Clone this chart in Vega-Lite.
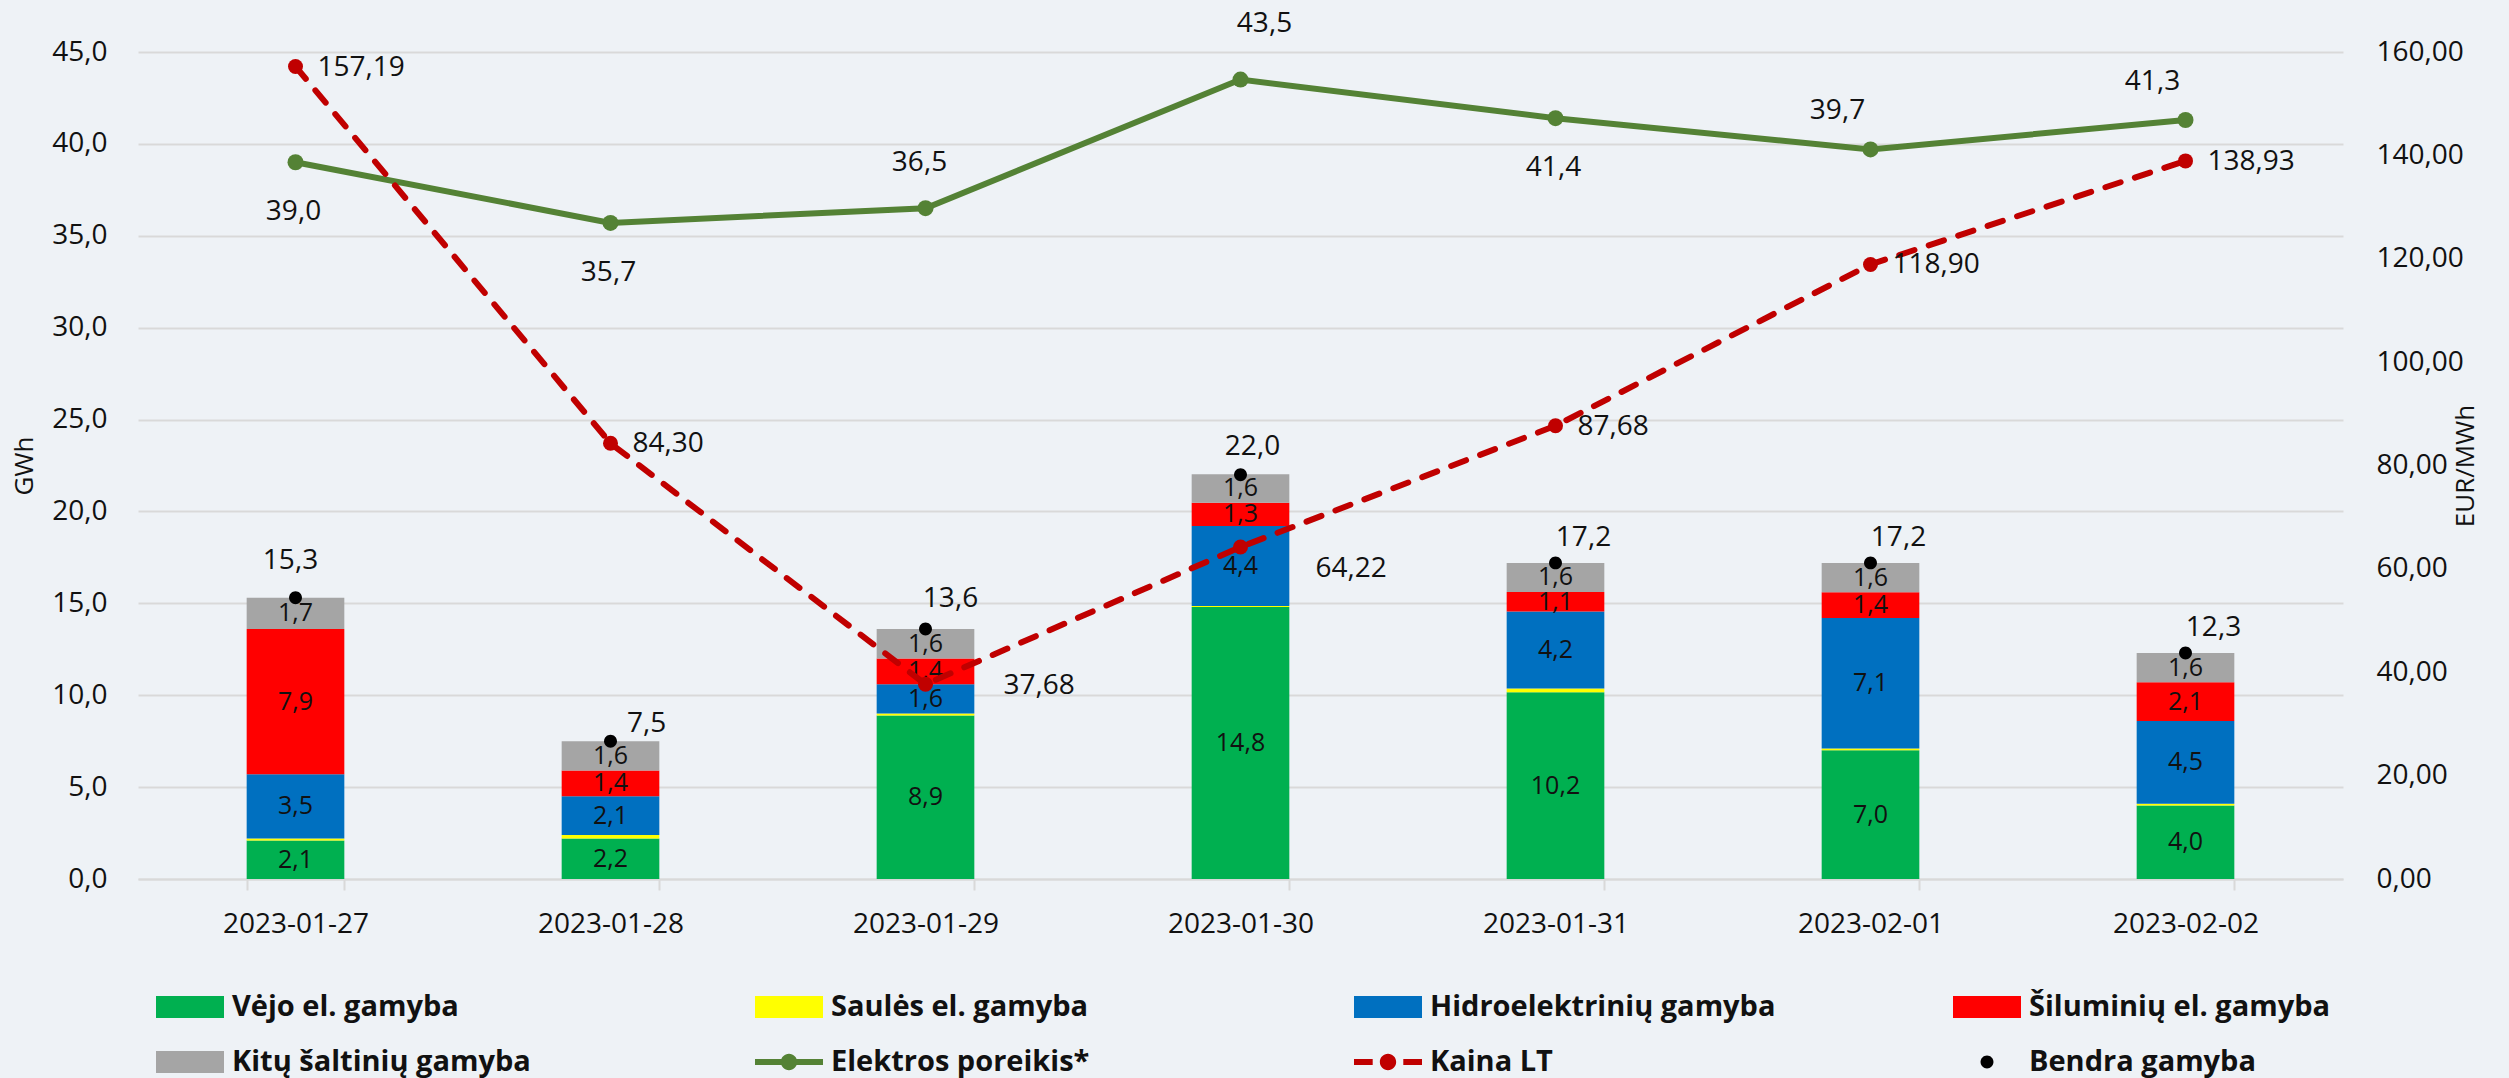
{
  "$schema": "https://vega.github.io/schema/vega-lite/v6.json",
  "width": 2205,
  "height": 827,
  "autosize": {"type": "none"},
  "padding": {"left": 138, "top": 52, "right": 166, "bottom": 199},
  "background": "#EEF2F6",
  "config": {
    "locale": {"number": {"decimal": ",", "thousands": " ", "grouping": [3], "currency": ["", " €"]}},
    "view": {"stroke": null},
    "font": "Open Sans",
    "axis": {"labelFont": "Open Sans", "titleFont": "Open Sans", "labelColor": "#111111", "titleColor": "#111111"},
    "text": {"font": "Open Sans", "color": "#111111"}
  },
  "datasets": {
    "gen": [
      {"date": "2023-01-27", "series": "Vėjo el. gamyba", "value": 2.1},
      {"date": "2023-01-27", "series": "Saulės el. gamyba", "value": 0.1},
      {"date": "2023-01-27", "series": "Hidroelektrinių gamyba", "value": 3.5},
      {"date": "2023-01-27", "series": "Šiluminių el. gamyba", "value": 7.9},
      {"date": "2023-01-27", "series": "Kitų  šaltinių gamyba", "value": 1.7},
      {"date": "2023-01-28", "series": "Vėjo el. gamyba", "value": 2.2},
      {"date": "2023-01-28", "series": "Saulės el. gamyba", "value": 0.2},
      {"date": "2023-01-28", "series": "Hidroelektrinių gamyba", "value": 2.1},
      {"date": "2023-01-28", "series": "Šiluminių el. gamyba", "value": 1.4},
      {"date": "2023-01-28", "series": "Kitų  šaltinių gamyba", "value": 1.6},
      {"date": "2023-01-29", "series": "Vėjo el. gamyba", "value": 8.9},
      {"date": "2023-01-29", "series": "Saulės el. gamyba", "value": 0.1},
      {"date": "2023-01-29", "series": "Hidroelektrinių gamyba", "value": 1.6},
      {"date": "2023-01-29", "series": "Šiluminių el. gamyba", "value": 1.4},
      {"date": "2023-01-29", "series": "Kitų  šaltinių gamyba", "value": 1.6},
      {"date": "2023-01-30", "series": "Vėjo el. gamyba", "value": 14.8},
      {"date": "2023-01-30", "series": "Saulės el. gamyba", "value": 0.05},
      {"date": "2023-01-30", "series": "Hidroelektrinių gamyba", "value": 4.36},
      {"date": "2023-01-30", "series": "Šiluminių el. gamyba", "value": 1.26},
      {"date": "2023-01-30", "series": "Kitų  šaltinių gamyba", "value": 1.56},
      {"date": "2023-01-31", "series": "Vėjo el. gamyba", "value": 10.16},
      {"date": "2023-01-31", "series": "Saulės el. gamyba", "value": 0.2},
      {"date": "2023-01-31", "series": "Hidroelektrinių gamyba", "value": 4.2},
      {"date": "2023-01-31", "series": "Šiluminių el. gamyba", "value": 1.06},
      {"date": "2023-01-31", "series": "Kitų  šaltinių gamyba", "value": 1.58},
      {"date": "2023-02-01", "series": "Vėjo el. gamyba", "value": 7.0},
      {"date": "2023-02-01", "series": "Saulės el. gamyba", "value": 0.1},
      {"date": "2023-02-01", "series": "Hidroelektrinių gamyba", "value": 7.1},
      {"date": "2023-02-01", "series": "Šiluminių el. gamyba", "value": 1.4},
      {"date": "2023-02-01", "series": "Kitų  šaltinių gamyba", "value": 1.6},
      {"date": "2023-02-02", "series": "Vėjo el. gamyba", "value": 4.0},
      {"date": "2023-02-02", "series": "Saulės el. gamyba", "value": 0.1},
      {"date": "2023-02-02", "series": "Hidroelektrinių gamyba", "value": 4.5},
      {"date": "2023-02-02", "series": "Šiluminių el. gamyba", "value": 2.1},
      {"date": "2023-02-02", "series": "Kitų  šaltinių gamyba", "value": 1.6}
    ],
    "total": [
      {"date": "2023-01-27", "series": "Bendra gamyba", "value": 15.3},
      {"date": "2023-01-28", "series": "Bendra gamyba", "value": 7.5},
      {"date": "2023-01-29", "series": "Bendra gamyba", "value": 13.6},
      {"date": "2023-01-30", "series": "Bendra gamyba", "value": 22.0},
      {"date": "2023-01-31", "series": "Bendra gamyba", "value": 17.2},
      {"date": "2023-02-01", "series": "Bendra gamyba", "value": 17.2},
      {"date": "2023-02-02", "series": "Bendra gamyba", "value": 12.3}
    ],
    "demand": [
      {"date": "2023-01-27", "series": "Elektros poreikis*", "value": 39.0},
      {"date": "2023-01-28", "series": "Elektros poreikis*", "value": 35.7},
      {"date": "2023-01-29", "series": "Elektros poreikis*", "value": 36.5},
      {"date": "2023-01-30", "series": "Elektros poreikis*", "value": 43.5},
      {"date": "2023-01-31", "series": "Elektros poreikis*", "value": 41.4},
      {"date": "2023-02-01", "series": "Elektros poreikis*", "value": 39.7},
      {"date": "2023-02-02", "series": "Elektros poreikis*", "value": 41.3}
    ],
    "price": [
      {"date": "2023-01-27", "series": "Kaina LT", "value": 157.19},
      {"date": "2023-01-28", "series": "Kaina LT", "value": 84.30},
      {"date": "2023-01-29", "series": "Kaina LT", "value": 37.68},
      {"date": "2023-01-30", "series": "Kaina LT", "value": 64.22},
      {"date": "2023-01-31", "series": "Kaina LT", "value": 87.68},
      {"date": "2023-02-01", "series": "Kaina LT", "value": 118.90},
      {"date": "2023-02-02", "series": "Kaina LT", "value": 138.93}
    ]
  },
  "encoding": {
    "x": {
      "field": "date", "type": "nominal",
      "scale": {"paddingInner": 0.69, "paddingOuter": 0.345},
      "axis": {
        "title": null, "labelAngle": 0, "labelFontSize": 28, "labelPadding": 20,
        "tickBand": "extent", "tickSize": 11, "tickWidth": 2, "tickColor": "#D9D9D9",
        "domainColor": "#D9D9D9", "domainWidth": 2, "grid": false
      }
    }
  },
  "layer": [
    {
      "layer": [
        {
          "data": {"name": "gen"},
          "transform": [
            {"calculate": "indexof(['Vėjo el. gamyba','Saulės el. gamyba','Hidroelektrinių gamyba','Šiluminių el. gamyba','Kitų  šaltinių gamyba'], datum.series)", "as": "ord"},
            {"stack": "value", "groupby": ["date"], "sort": [{"field": "ord", "order": "ascending"}], "as": ["v0", "v1"]}
          ],
          "mark": {"type": "bar"},
          "encoding": {
            "y": {
              "field": "v0", "type": "quantitative",
              "scale": {"domain": [0, 45], "nice": false, "zero": true},
              "axis": {
                "title": "GWh", "values": [0, 5, 10, 15, 20, 25, 30, 35, 40, 45], "format": ".1f",
                "grid": true, "gridColor": "#D9D9D9", "gridWidth": 2, "domain": false, "ticks": false,
                "labelFontSize": 28, "labelPadding": 31, "titleFontSize": 26, "titleFontWeight": "normal", "titlePadding": 14
              }
            },
            "y2": {"field": "v1"},
            "fill": {
              "field": "series", "type": "nominal",
              "scale": {
                "domain": ["Vėjo el. gamyba", "Saulės el. gamyba", "Hidroelektrinių gamyba", "Šiluminių el. gamyba", "Kitų  šaltinių gamyba"],
                "range": ["#00B050", "#FFFF00", "#0070C0", "#FF0000", "#A5A5A5"]
              },
              "legend": null
            }
          }
        },
        {
          "data": {"name": "gen"},
          "transform": [
            {"calculate": "indexof(['Vėjo el. gamyba','Saulės el. gamyba','Hidroelektrinių gamyba','Šiluminių el. gamyba','Kitų  šaltinių gamyba'], datum.series)", "as": "ord"},
            {"stack": "value", "groupby": ["date"], "sort": [{"field": "ord", "order": "ascending"}], "as": ["v0", "v1"]},
            {"calculate": "(datum.v0 + datum.v1) / 2", "as": "mid"},
            {"filter": "datum.series !== 'Saulės el. gamyba'"}
          ],
          "mark": {"type": "text", "fontSize": 25, "baseline": "middle", "align": "center"},
          "encoding": {
            "y": {"field": "mid", "type": "quantitative"},
            "text": {"field": "value", "type": "quantitative", "format": ".1f"}
          }
        },
        {
          "data": {"name": "total"},
          "mark": {"type": "point", "filled": true, "size": 4624, "strokeWidth": 0, "opacity": 1},
          "encoding": {
            "y": {"field": "value", "type": "quantitative"},
            "color": {
              "field": "series", "type": "nominal",
              "scale": {
                "domain": ["Vėjo el. gamyba", "Saulės el. gamyba", "Hidroelektrinių gamyba", "Šiluminių el. gamyba", "Kitų  šaltinių gamyba", "Elektros poreikis*", "Kaina LT", "Bendra gamyba"],
                "range": ["#00B050", "#FFFF00", "#0070C0", "#FF0000", "#A5A5A5", "#548235", "#C00000", "#000000"]
              },
              "legend": {
                "orient": "none", "legendX": 18, "legendY": 921, "columns": 4, "direction": "horizontal", "title": null,
                "symbolSize": 4624, "symbolStrokeWidth": 0, "labelFont": "Open Sans", "labelFontSize": 29,
                "labelFontWeight": "bold", "labelColor": "#111111", "labelOffset": 8, "columnPadding": 177,
                "rowPadding": 6, "gridAlign": "all", "labelLimit": 1000, "padding": 0
              }
            },
            "shape": {
              "field": "series", "type": "nominal",
              "scale": {
                "domain": ["Vėjo el. gamyba", "Saulės el. gamyba", "Hidroelektrinių gamyba", "Šiluminių el. gamyba", "Kitų  šaltinių gamyba", "Elektros poreikis*", "Kaina LT", "Bendra gamyba"],
                "range": [
                  "M-1,-0.32H1V0.32H-1Z",
                  "M-1,-0.32H1V0.32H-1Z",
                  "M-1,-0.32H1V0.32H-1Z",
                  "M-1,-0.32H1V0.32H-1Z",
                  "M-1,-0.32H1V0.32H-1Z",
                  "M-1,-0.09H-0.2V0.09H-1Z M0.2,-0.09H1V0.09H0.2Z M-0.24,0A0.24,0.24 0 1,1 0.24,0A0.24,0.24 0 1,1 -0.24,0Z",
                  "M-1,-0.09H-0.45V0.09H-1Z M0.45,-0.09H1V0.09H0.45Z M-0.24,0A0.24,0.24 0 1,1 0.24,0A0.24,0.24 0 1,1 -0.24,0Z",
                  "M-0.19,0A0.19,0.19 0 1,1 0.19,0A0.19,0.19 0 1,1 -0.19,0Z"
                ]
              },
              "legend": {
                "orient": "none", "legendX": 18, "legendY": 921, "columns": 4, "direction": "horizontal", "title": null,
                "symbolSize": 4624, "symbolStrokeWidth": 0, "labelFont": "Open Sans", "labelFontSize": 29,
                "labelFontWeight": "bold", "labelColor": "#111111", "labelOffset": 8, "columnPadding": 177,
                "rowPadding": 6, "gridAlign": "all", "labelLimit": 1000, "padding": 0
              }
            }
          }
        },
        {
          "data": {"name": "total"},
          "transform": [{"filter": "datum.date === '2023-01-27'"}],
          "mark": {"type": "text", "fontSize": 28, "align": "center", "baseline": "middle", "dx": -5, "dy": -37},
          "encoding": {"y": {"field": "value", "type": "quantitative"}, "text": {"field": "value", "type": "quantitative", "format": ".1f"}}
        },
        {
          "data": {"name": "total"},
          "transform": [{"filter": "datum.date === '2023-01-28'"}],
          "mark": {"type": "text", "fontSize": 28, "align": "center", "baseline": "middle", "dx": 36, "dy": -17},
          "encoding": {"y": {"field": "value", "type": "quantitative"}, "text": {"field": "value", "type": "quantitative", "format": ".1f"}}
        },
        {
          "data": {"name": "total"},
          "transform": [{"filter": "datum.date === '2023-01-29'"}],
          "mark": {"type": "text", "fontSize": 28, "align": "center", "baseline": "middle", "dx": 25, "dy": -30},
          "encoding": {"y": {"field": "value", "type": "quantitative"}, "text": {"field": "value", "type": "quantitative", "format": ".1f"}}
        },
        {
          "data": {"name": "total"},
          "transform": [{"filter": "datum.date === '2023-01-30'"}],
          "mark": {"type": "text", "fontSize": 28, "align": "center", "baseline": "middle", "dx": 12, "dy": -28},
          "encoding": {"y": {"field": "value", "type": "quantitative"}, "text": {"field": "value", "type": "quantitative", "format": ".1f"}}
        },
        {
          "data": {"name": "total"},
          "transform": [{"filter": "datum.date >= '2023-01-31'"}],
          "mark": {"type": "text", "fontSize": 28, "align": "center", "baseline": "middle", "dx": 28, "dy": -25},
          "encoding": {"y": {"field": "value", "type": "quantitative"}, "text": {"field": "value", "type": "quantitative", "format": ".1f"}}
        },
        {
          "data": {"name": "demand"},
          "mark": {"type": "line", "color": "#548235", "strokeWidth": 6, "point": {"filled": true, "size": 256, "color": "#548235"}},
          "encoding": {
            "y": {"field": "value", "type": "quantitative"}
          }
        },
        {
          "data": {"name": "demand"},
          "transform": [{"filter": "datum.date === '2023-01-27' || datum.date === '2023-01-28' || datum.date === '2023-01-31'"}],
          "mark": {"type": "text", "fontSize": 28, "align": "center", "baseline": "middle", "dx": -2, "dy": 50},
          "encoding": {"y": {"field": "value", "type": "quantitative"}, "text": {"field": "value", "type": "quantitative", "format": ".1f"}}
        },
        {
          "data": {"name": "demand"},
          "transform": [{"filter": "datum.date === '2023-01-29'"}],
          "mark": {"type": "text", "fontSize": 28, "align": "center", "baseline": "middle", "dx": -6, "dy": -45},
          "encoding": {"y": {"field": "value", "type": "quantitative"}, "text": {"field": "value", "type": "quantitative", "format": ".1f"}}
        },
        {
          "data": {"name": "demand"},
          "transform": [{"filter": "datum.date === '2023-01-30'"}],
          "mark": {"type": "text", "fontSize": 28, "align": "center", "baseline": "middle", "dx": 24, "dy": -56},
          "encoding": {"y": {"field": "value", "type": "quantitative"}, "text": {"field": "value", "type": "quantitative", "format": ".1f"}}
        },
        {
          "data": {"name": "demand"},
          "transform": [{"filter": "datum.date >= '2023-02-01'"}],
          "mark": {"type": "text", "fontSize": 28, "align": "center", "baseline": "middle", "dx": -33, "dy": -38},
          "encoding": {"y": {"field": "value", "type": "quantitative"}, "text": {"field": "value", "type": "quantitative", "format": ".1f"}}
        }
      ]
    },
    {
      "layer": [
        {
          "data": {"name": "price"},
          "mark": {"type": "line", "color": "#C00000", "strokeWidth": 6, "strokeDash": [16, 15], "strokeCap": "round", "point": {"filled": true, "size": 225, "color": "#C00000"}},
          "encoding": {
            "y": {
              "field": "value", "type": "quantitative",
              "scale": {"domain": [0, 160], "nice": false, "zero": true},
              "axis": {
                "orient": "right", "title": "EUR/MWh", "values": [0, 20, 40, 60, 80, 100, 120, 140, 160], "format": ".2f",
                "grid": false, "domain": false, "ticks": false, "labelFontSize": 28, "labelPadding": 33,
                "titleFontSize": 26, "titleFontWeight": "normal", "titlePadding": 15, "titleAngle": 270
              }
            }
          }
        },
        {
          "data": {"name": "price"},
          "transform": [{"filter": "datum.date !== '2023-01-29' && datum.date !== '2023-01-30'"}],
          "mark": {"type": "text", "fontSize": 28, "align": "left", "baseline": "middle", "dx": 22, "dy": 1},
          "encoding": {"y": {"field": "value", "type": "quantitative"}, "text": {"field": "value", "type": "quantitative", "format": ".2f"}}
        },
        {
          "data": {"name": "price"},
          "transform": [{"filter": "datum.date === '2023-01-29'"}],
          "mark": {"type": "text", "fontSize": 28, "align": "left", "baseline": "middle", "dx": 78, "dy": 2},
          "encoding": {"y": {"field": "value", "type": "quantitative"}, "text": {"field": "value", "type": "quantitative", "format": ".2f"}}
        },
        {
          "data": {"name": "price"},
          "transform": [{"filter": "datum.date === '2023-01-30'"}],
          "mark": {"type": "text", "fontSize": 28, "align": "left", "baseline": "middle", "dx": 75, "dy": 22},
          "encoding": {"y": {"field": "value", "type": "quantitative"}, "text": {"field": "value", "type": "quantitative", "format": ".2f"}}
        }
      ]
    }
  ],
  "resolve": {"scale": {"y": "independent"}}
}
